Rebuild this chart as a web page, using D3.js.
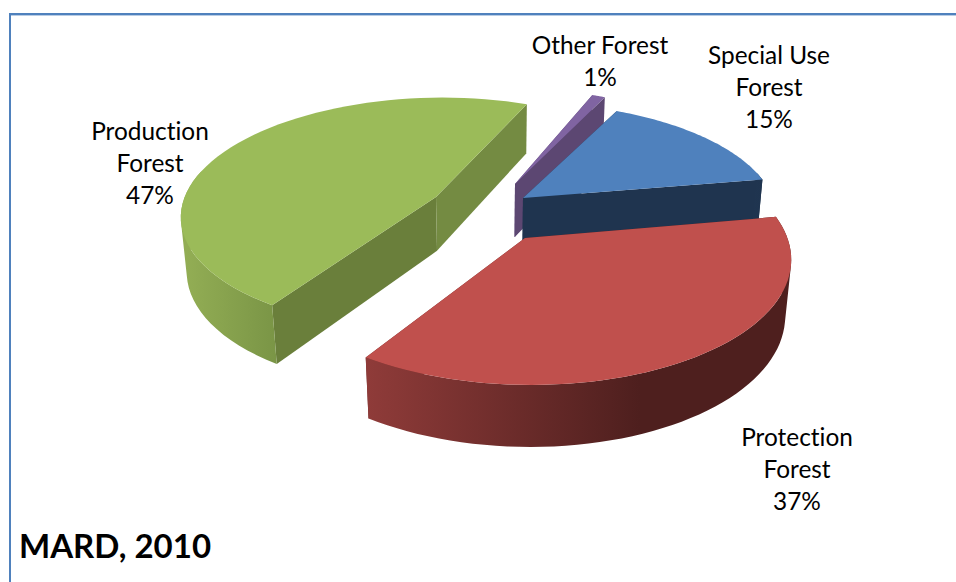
<!DOCTYPE html>
<html>
<head>
<meta charset="utf-8">
<script src="https://cdnjs.cloudflare.com/ajax/libs/d3/7.8.5/d3.min.js"></script>
<style>
  html, body { margin: 0; padding: 0; background: #fff; }
  svg { display: block; }
  text { font-family: Lato, "Open Sans", sans-serif; fill: #000; font-variant-ligatures: none; }
</style>
</head>
<body>
<div id="chart"></div>
<script>
var categories = ["Special Use Forest", "Protection Forest", "Production Forest", "Other Forest"];
var shares = [15, 37, 47, 1];
var labelLines = [["Special Use", "Forest"], ["Protection", "Forest"], ["Production", "Forest"], ["Other Forest"]];
var sourceNote = "MARD, 2010";

var width = 956, height = 582;

// camera, fitted by eye to the picture
var cam = { cx: 490, cy: 240, k: 0.49, dist: 1700, drop: 57, sink: 34 };

var styles = [
  { top: "#4f81bd", wall: ["#2a4a70", "#1f344f"], cut: "#1f344f", cutBack: "#1f344f", apex: [523, 198], r: 263, ry: 246, label: [769, 63.5] },
  { top: "#c0504d", wall: ["#8f3b39", "#4e1f1e"], cut: "#6d2d2b", cutBack: "#4e1f1e", apex: [525, 238], r: 263, ry: 256, label: [797, 445.5] },
  { top: "#9bbb59", wall: ["#92ad54", "#7a9546"], cut: "#748b42", cutBack: "#6a7f3b", apex: [436, 197], r: 265, ry: 258, label: [150, 139.5] },
  { top: "#8064a2", wall: ["#5c4772", "#5c4772"], cut: "#5c4772", cutBack: "#604a7b", apex: [515, 184], r: 255, ry: 255, label: [600, 53.5] }
];
var wallRange = [[523, 762], [367, 640], [187, 276], [514, 606]];
var drawOrder = [3, 0, 2, 1];

var svg = d3.select("#chart").append("svg").attr("width", width).attr("height", height);
var defs = svg.append("defs");

// frame
svg.append("line").attr("x1", 10).attr("x2", width).attr("y1", 15.5).attr("y2", 15.5).attr("stroke", "#b8cce4").attr("stroke-width", 1);
svg.append("line").attr("x1", 9).attr("x2", width).attr("y1", 14).attr("y2", 14).attr("stroke", "#4f81bd").attr("stroke-width", 2);
svg.append("line").attr("x1", 10).attr("x2", 10).attr("y1", 13).attr("y2", height).attr("stroke", "#4f81bd").attr("stroke-width", 2);

function project(X, Y, z) {
  var s = cam.dist / (cam.dist - Y + z * cam.sink);
  return [cam.cx + X * s, cam.cy + (cam.k * Y + z * cam.drop) * s];
}

// pixel position of a point on the top plane back to plane coordinates
function unproject(p) {
  var v = p[1] - cam.cy;
  var Y = cam.dist * v / (cam.k * cam.dist + v);
  var s = cam.dist / (cam.dist - Y);
  return [(p[0] - cam.cx) / s, Y];
}

var pie = d3.pie().sort(null).startAngle(26 * Math.PI / 180).endAngle(386 * Math.PI / 180);
var arcs = pie(shares);
var line = d3.line();

function angles(i) {
  var a = arcs[i];
  return d3.range(0, 61).map(function (j) {
    return a.startAngle + (a.endAngle - a.startAngle) * j / 60;
  });
}

function rimPoint(i, t, z) {
  var st = styles[i], o = unproject(st.apex);
  return project(o[0] + st.r * Math.sin(t), o[1] - st.ry * Math.cos(t), z);
}

function apex(i, z) {
  var o = unproject(styles[i].apex);
  return project(o[0], o[1], z);
}

drawOrder.forEach(function (i) {
  var st = styles[i];
  var ts = angles(i);
  var first = ts[0], last = ts[ts.length - 1];
  var topRim = ts.map(function (t) { return rimPoint(i, t, 0); });
  var g = svg.append("g").attr("class", "slice").attr("data-name", categories[i]);

  var grad = defs.append("linearGradient").attr("id", "wall" + i)
    .attr("gradientUnits", "userSpaceOnUse")
    .attr("x1", wallRange[i][0]).attr("x2", wallRange[i][1]).attr("y1", 0).attr("y2", 0);
  grad.append("stop").attr("offset", 0).attr("stop-color", st.wall[0]);
  grad.append("stop").attr("offset", 1).attr("stop-color", st.wall[1]);

  // both sides of the cut
  g.append("path")
    .attr("d", line([apex(i, 0), rimPoint(i, first, 0), rimPoint(i, first, 1), apex(i, 1)]) + "Z")
    .attr("fill", st.cutBack);
  g.append("path")
    .attr("d", line([apex(i, 0), rimPoint(i, last, 0), rimPoint(i, last, 1), apex(i, 1)]) + "Z")
    .attr("fill", st.cut);

  // curved wall: one path of strips, all wound the same way so the folds at the sides stay filled
  var front = ts.filter(function (t) { return Math.cos(t) < 0.25; });
  var strips = d3.pairs(front).map(function (d) {
    var quad = [rimPoint(i, d[0], 0), rimPoint(i, d[1], 0), rimPoint(i, d[1], 1), rimPoint(i, d[0], 1)];
    if (d3.polygonArea(quad) < 0) quad.reverse();
    return line(quad) + "Z";
  });
  if (strips.length) {
    g.append("path")
      .attr("d", strips.join(""))
      .attr("fill", "url(#wall" + i + ")");
  }

  // top face
  g.append("path")
    .attr("d", line([apex(i, 0)].concat(topRim)) + "Z")
    .attr("fill", st.top);
});

// labels
categories.forEach(function (c, i) {
  var lines = labelLines[i].concat([shares[i] + "%"]);
  lines.forEach(function (t, j) {
    svg.append("text")
      .attr("x", styles[i].label[0])
      .attr("y", styles[i].label[1] + j * 32)
      .attr("text-anchor", "middle")
      .attr("font-size", 24.4)
      .text(t);
  });
});

svg.append("text")
  .attr("x", 19).attr("y", 558)
  .attr("font-size", 33).attr("font-weight", "bold")
  .text(sourceNote);
</script>
</body>
</html>
